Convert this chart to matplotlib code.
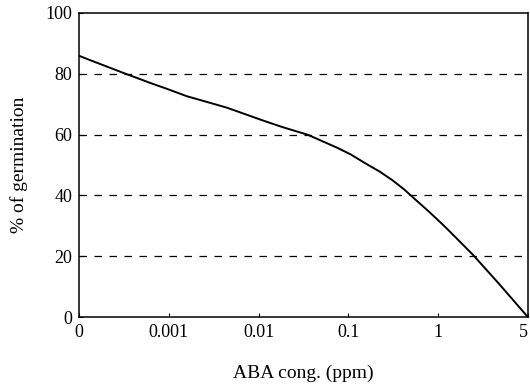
import numpy as np
import matplotlib.pyplot as plt

plt.rcParams['font.family'] = ['Liberation Serif', 'DejaVu Serif']

# x tick labels (equally spaced categories on the axis)
conc_labels = ['0', '0.001', '0.01', '0.1', '1', '5']

# curve, x in tick-index units
curve_x = [0, 0.12, 0.49, 0.79, 1.0, 1.2, 1.45, 1.65, 1.85, 2.05, 2.26, 2.55, 2.88, 3.03, 3.18, 3.35, 3.49, 3.62, 3.74, 3.9, 4.08, 4.39, 4.67, 5.0]
curve_y = [85.9, 84.5, 80.3, 77.0, 74.8, 72.6, 70.5, 68.8, 66.7, 64.6, 62.5, 59.9, 55.6, 53.4, 50.7, 47.8, 45.0, 42.0, 38.8, 34.6, 29.6, 20.4, 11.2, 0]

grid_levels = [20, 40, 60, 80]

fig = plt.figure(figsize=(5.3, 3.89), dpi=100)
ax = fig.add_axes([0.149, 0.185, 0.847, 0.782])

for g in grid_levels:
    ax.axhline(g, color='black', lw=0.9, ls=(0, (6, 6)))

ax.plot(curve_x, curve_y, color='black', lw=1.4)

ax.set_xlim(0, 5)
ax.set_ylim(0, 100)
ax.set_xticks(range(len(conc_labels)))
ax.set_xticklabels(conc_labels)
ax.set_yticks([0, 20, 40, 60, 80, 100])
ax.tick_params(direction='in', length=3, labelsize=13, pad=5)
ax.get_xticklabels()[-1].set_horizontalalignment('right')
ax.get_xticklabels()[-1].set_x(5.04)
for s in ax.spines.values():
    s.set_linewidth(1.1)

ax.set_xlabel('ABA cong. (ppm)', fontsize=14, labelpad=17)
ax.set_ylabel('% of germination', fontsize=14, labelpad=12)

fig.savefig('out.png', dpi=100)
